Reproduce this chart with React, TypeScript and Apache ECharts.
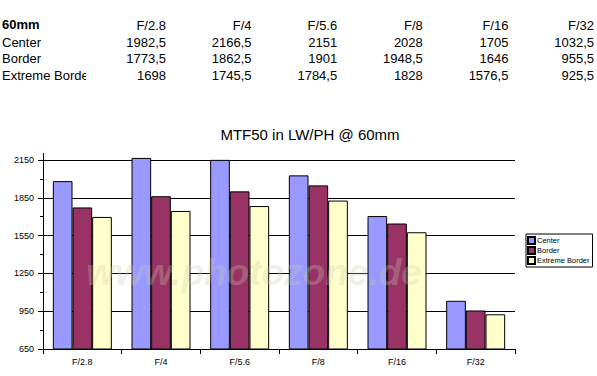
import React, { useEffect, useRef } from "react";
import * as echarts from "echarts";

const categories = ["F/2.8", "F/4", "F/5.6", "F/8", "F/16", "F/32"];
const seriesNames = ["Center", "Border", "Extreme Border"];
const centerValues = [1982.5, 2166.5, 2151, 2028, 1705, 1032.5];
const borderValues = [1773.5, 1862.5, 1901, 1948.5, 1646, 955.5];
const extremeValues = [1698, 1745.5, 1784.5, 1828, 1576.5, 925.5];
const tableHeader = "60mm";
const yMin = 650;
const yMax = 2200;
const yStep = 300;
const colors = ["#9999FF", "#993366", "#FFFFCC"];

const fmt = (v: number) => String(v).replace(".", ",");

export default function App() {
  const ref = useRef<HTMLDivElement>(null);
  useEffect(() => {
    if (!ref.current) return;
    const chart = echarts.init(ref.current, undefined, { renderer: "svg" });
    const font = "Liberation Sans, Arial, sans-serif";
    const rowsY = [25, 42, 58.5, 75];
    const colRight = (i: number) => 166 + i * 85.6;
    const allVals = [centerValues, borderValues, extremeValues];
    const graphics: any[] = [];
    graphics.push({
      type: "text",
      left: 2,
      top: rowsY[0] - 7,
      style: { text: tableHeader, font: `bold 13px ${font}`, fill: "#000" },
    });
    categories.forEach((c, i) => {
      graphics.push({
        type: "text",
        x: colRight(i),
        y: rowsY[0],
        style: { text: c, font: `13px ${font}`, fill: "#000", align: "right", verticalAlign: "middle" },
      });
    });
    seriesNames.forEach((n, r) => {
      graphics.push({
        type: "text",
        x: 2,
        y: rowsY[r + 1],
        style: { text: n, font: `13px ${font}`, fill: "#000", verticalAlign: "middle" },
      });
      allVals[r].forEach((v, i) => {
        graphics.push({
          type: "text",
          x: colRight(i),
          y: rowsY[r + 1],
          style: { text: fmt(v), font: `13px ${font}`, fill: "#000", align: "right", verticalAlign: "middle" },
        });
      });
    });
    // clip the overflowing row label
    graphics.push({
      type: "rect",
      shape: { x: 86, y: rowsY[3] - 9, width: 30, height: 18 },
      style: { fill: "#fff" },
      z: 10,
    });
    // hide top split line / tick at axis max (under bars)
    graphics.push({
      type: "rect",
      shape: { x: 44, y: 151, width: 475, height: 5 },
      style: { fill: "#fff" },
      z: 1,
    });
    graphics.push({
      type: "rect",
      shape: { x: 30, y: 151, width: 13, height: 5 },
      style: { fill: "#fff" },
      z: 1,
    });
    // watermark
    graphics.push({
      type: "text",
      x: 254,
      y: 272,
      z: 100,
      style: {
        text: "www.photozone.de",
        font: `italic bold 37px ${font}`,
        fill: "rgba(205,205,175,0.3)",
        align: "center",
        verticalAlign: "middle",
      },
    });

    chart.setOption({
      animation: false,
      backgroundColor: "#fff",
      title: {
        text: "MTF50 in LW/PH @ 60mm",
        left: 305,
        top: 122,
        textAlign: "center",
        textStyle: { fontFamily: font, fontSize: 15, fontWeight: "normal", color: "#000" },
      },
      legend: {
        orient: "vertical",
        left: 526,
        top: 234,
        itemWidth: 7,
        itemHeight: 7,
        itemGap: 1,
        padding: [2, 3, 2, 1],
        borderColor: "#000",
        borderWidth: 1,
        icon: "rect",
        textStyle: { fontFamily: font, fontSize: 7.5, lineHeight: 8, color: "#000", padding: [0, 0, 0, -3] },
        data: seriesNames,
      },
      grid: { left: 43, right: 82, top: 153.7, bottom: 27 },
      xAxis: {
        type: "category",
        data: categories,
        axisLine: { onZero: false, lineStyle: { color: "#000", width: 1 } },
        axisTick: { show: true, length: 5, lineStyle: { color: "#000" } },
        axisLabel: { fontFamily: font, fontSize: 9, color: "#000", margin: 8 },
      },
      yAxis: {
        type: "value",
        min: yMin,
        max: yMax,
        interval: yStep,
        axisLine: { show: true, lineStyle: { color: "#000", width: 1 } },
        axisTick: { show: true, length: 5, lineStyle: { color: "#000" } },
        minorTick: { show: true, splitNumber: 2, length: 3, lineStyle: { color: "#000" } },
        splitLine: { show: true, lineStyle: { color: "#000", width: 1 } },
        axisLabel: {
          fontFamily: font,
          fontSize: 9,
          color: "#000",
          margin: 9,
          formatter: (v: number) => (v === yMax ? "" : String(v)),
        },
      },
      series: [centerValues, borderValues, extremeValues].map((d, i) => ({
        name: seriesNames[i],
        type: "bar",
        data: d,
        z: 2,
        barGap: "0%",
        barCategoryGap: "25%",
        itemStyle: { color: colors[i], borderColor: "#000", borderWidth: 1 },
      })),
      graphic: graphics,
    });
    return () => chart.dispose();
  }, []);
  return (
    <div
      ref={ref}
      style={{ position: "fixed", left: 0, top: 0, width: 597, height: 376 }}
    />
  );
}
